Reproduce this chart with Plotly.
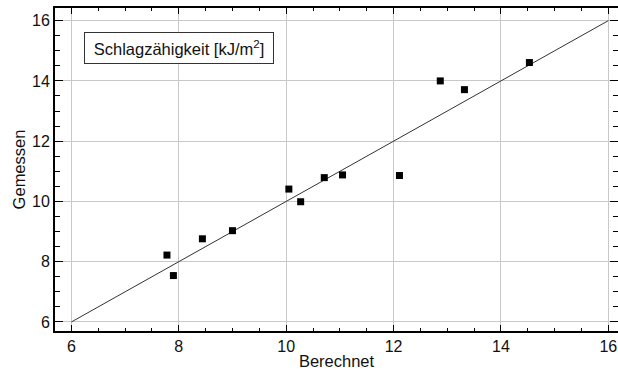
import plotly.graph_objects as go

# Data
berechnet = [7.78, 7.90, 8.44, 9.00, 10.05, 10.27, 10.71, 11.05, 12.11, 12.87, 13.32, 14.53]
gemessen = [8.22, 7.54, 8.76, 9.03, 10.41, 9.99, 10.79, 10.88, 10.86, 14.00, 13.71, 14.61]
line_x = [6, 16]
line_y = [6, 16]
tick_vals = [6, 8, 10, 12, 14, 16]
tick_text = ["6", "8", "10", "12", "14", "16"]
label_text = "Schlagzähigkeit [kJ/m<sup>2</sup>]"

FONT = "Liberation Sans, Arial, sans-serif"

fig = go.Figure()
fig.add_trace(go.Scatter(x=line_x, y=line_y, mode="lines",
                         line=dict(color="#333333", width=1), hoverinfo="skip",
                         showlegend=False))
fig.add_trace(go.Scatter(x=berechnet, y=gemessen, mode="markers",
                         marker=dict(symbol="square", size=7, color="black"),
                         showlegend=False))
# invisible trace to carry the right-hand tick axis
fig.add_trace(go.Scatter(x=[line_x[0]], y=[line_y[0]], yaxis="y2", mode="markers",
                         marker=dict(opacity=0), hoverinfo="skip", showlegend=False))

yrange = [5.70, 16.42]

fig.update_layout(
    width=618, height=374,
    margin=dict(l=55, r=0, t=8, b=43),
    paper_bgcolor="white", plot_bgcolor="white",
    font=dict(family=FONT, size=16, color="#111111"),
    xaxis=dict(
        range=[5.695, 16.18], tickvals=tick_vals, ticktext=tick_text,
        showgrid=True, gridcolor="#c8c8c8", gridwidth=1,
        showline=True, linecolor="black", linewidth=2, mirror="ticks",
        ticks="inside", ticklen=6, tickcolor="black", tickwidth=1,
        minor=dict(dtick=0.5, tick0=6, ticks="inside", ticklen=3, tickcolor="black", tickwidth=1, showgrid=False),
        zeroline=False,
        title=dict(text="Berechnet", font=dict(size=16.5), standoff=1),
        tickfont=dict(size=16),
    ),
    yaxis=dict(
        range=yrange, tickvals=tick_vals, ticktext=tick_text,
        showgrid=True, gridcolor="#c8c8c8", gridwidth=1,
        showline=True, linecolor="black", linewidth=2, mirror=False,
        ticks="inside", ticklen=8, tickcolor="black", tickwidth=1,
        minor=dict(dtick=0.5, tick0=6, ticks="inside", ticklen=5, tickcolor="black", tickwidth=1, showgrid=False),
        zeroline=False,
        title=dict(text="Gemessen", font=dict(size=16.5), standoff=2),
        tickfont=dict(size=16),
    ),
    yaxis2=dict(
        overlaying="y", side="right", range=yrange, tickvals=tick_vals,
        showticklabels=False, showgrid=False, showline=False, zeroline=False,
        ticks="inside", ticklen=8, tickcolor="black", tickwidth=1,
        minor=dict(dtick=0.5, tick0=6, ticks="inside", ticklen=5, tickcolor="black", tickwidth=1, showgrid=False),
    ),
    annotations=[dict(
        text=label_text, xref="paper", yref="paper", x=0.2203, y=0.8777,
        xanchor="center", yanchor="middle", showarrow=False,
        bgcolor="white", bordercolor="#333333", borderwidth=1, borderpad=2,
        width=184, height=26, font=dict(size=16.5, color="#111111"),
    )],
)

fig.write_html("out.html")
